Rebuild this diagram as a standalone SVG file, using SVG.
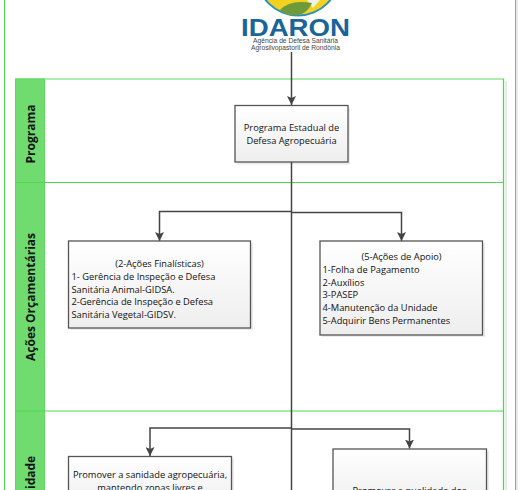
<svg xmlns="http://www.w3.org/2000/svg" width="520" height="490" viewBox="0 0 520 490">
<style>
.t{font-family:"Open Sans","Noto Sans",sans-serif;font-size:9.3px;fill:#111}
.lane{font-family:"Open Sans","Noto Sans",sans-serif;font-size:12px;font-weight:700;fill:#111}
.box{stroke:#555;stroke-width:1.3;fill:url(#g)}
.sh{fill:#000;opacity:.08}
.c{fill:none;stroke:#444;stroke-width:1.5}
.s{font-family:"Liberation Sans",sans-serif;font-size:6.7px;fill:#444;text-anchor:middle}
</style>
<defs>
<linearGradient id="g" x1="0" y1="0" x2="0" y2="1"><stop offset="0" stop-color="#fff"/><stop offset="1" stop-color="#eeeeee"/></linearGradient>
<marker id="a" markerUnits="userSpaceOnUse" markerWidth="10" markerHeight="9" refX="9" refY="4.5" orient="auto"><path d="M0 0L9 4.5L0 9L2 4.500Z" fill="#444"/></marker>
</defs>
<rect width="520" height="490" fill="#fff"/>
<rect x="516" y="-5" width="2" height="510" fill="#e8ece8"/>
<rect x="4.500" y="-5" width="511" height="510" fill="none" stroke="#4fd84f" stroke-width="1"/>
<g id="logo">
<circle cx="298" cy="-26" r="42.500" fill="#2a8fc4"/>
<circle cx="298" cy="-26" r="40.500" fill="#f2d21f"/>
<path d="M276 0H320L313 8L307 0Z" fill="#eef2e6"/>
<path d="M280 10Q290 -1 312 3Q306 16 293 15.500Q285 15 280 10Z" fill="#6f9a3c"/>
<text x="295.500" y="36" text-anchor="middle" font-family="Liberation Sans,sans-serif" font-size="24" font-weight="700" fill="#1b639b" textLength="109" lengthAdjust="spacingAndGlyphs">IDARON</text>
<text class="s" x="295.500" y="43">Agência de Defesa Sanitária</text>
<text class="s" x="295.500" y="50">Agrosilvopastoril de Rondônia</text>
</g>
<g id="lanes">
<rect x="505" y="81" width="2" height="420" fill="#e8ece8"/>
<rect x="16" y="79" width="487.500" height="420" fill="none" stroke="#96e696" stroke-width="1.500"/>
<rect x="503" y="79" width="1" height="420" fill="#4fd84f"/>
<rect x="15.500" y="79" width="29" height="420" fill="#70dc70" stroke="#62d862"/>
<path d="M16 182.500H503M16 411H503" stroke="#4fd84f" stroke-width="1"/>
<text class="lane" transform="translate(34.500 134) rotate(-90)" text-anchor="middle">Programa</text>
<text class="lane" transform="translate(34.500 297) rotate(-90)" text-anchor="middle">Ações Orçamentárias</text>
<text class="lane" transform="translate(34.500 489) rotate(-90)">idade</text>
</g>
<g id="connectors">
<path class="c" d="M291.500 52V105" marker-end="url(#a)"/>
<path class="c" d="M291.500 162V490"/>
<path class="c" d="M291.500 211.500H159.500V241" marker-end="url(#a)"/>
<path class="c" d="M291.500 212.500H401.500V241" marker-end="url(#a)"/>
<path class="c" d="M291.500 428H150V456" marker-end="url(#a)"/>
<path class="c" d="M291.500 429H409.500V448.500" marker-end="url(#a)"/>
</g>
<g id="n1"><rect class="sh" x="237" y="107.500" width="113" height="57"/><rect class="box" x="235" y="105.500" width="113" height="56.500"/>
<text class="t" x="291.500" y="131" text-anchor="middle">Programa Estadual de</text><text class="t" x="291.500" y="144" text-anchor="middle">Defesa Agropecuária</text></g>
<g id="n2"><rect class="sh" x="71" y="243" width="182" height="87"/><rect class="box" x="68.500" y="241" width="182" height="87"/>
<text class="t" x="159.500" y="266.500" text-anchor="middle">(2-Ações Finalísticas)</text>
<text class="t" x="71.500" y="279.500">1- Gerência de Inspeção e Defesa</text>
<text class="t" x="71.500" y="292.500">Sanitária Animal-GIDSA.</text>
<text class="t" x="71.500" y="305">2-Gerência de Inspeção e Defesa</text>
<text class="t" x="71.500" y="318">Sanitária Vegetal-GIDSV.</text></g>
<g id="n3"><rect class="sh" x="322" y="243" width="163" height="94"/><rect class="box" x="320" y="241" width="162.500" height="94"/>
<text class="t" x="401.500" y="260" text-anchor="middle">(5-Ações de Apoio)</text>
<text class="t" x="322.500" y="272.500">1-Folha de Pagamento</text>
<text class="t" x="322.500" y="285.500">2-Auxílios</text>
<text class="t" x="322.500" y="298">3-PASEP</text>
<text class="t" x="322.500" y="311">4-Manutenção da Unidade</text>
<text class="t" x="322.500" y="324">5-Adquirir Bens Permanentes</text></g>
<g id="n4"><rect class="sh" x="71" y="458.500" width="163" height="50"/><rect class="box" x="68.500" y="456.500" width="163" height="50"/>
<text class="t" x="150" y="478" text-anchor="middle">Promover a sanidade agropecuária,</text><text class="t" x="150" y="491" text-anchor="middle">mantendo zonas livres e</text></g>
<g id="n5"><rect class="sh" x="335" y="451" width="154" height="60"/><rect x="333" y="449" width="153.500" height="60" class="box"/>
<text class="t" x="409.500" y="494" text-anchor="middle">Promover a qualidade dos</text></g>
</svg>
